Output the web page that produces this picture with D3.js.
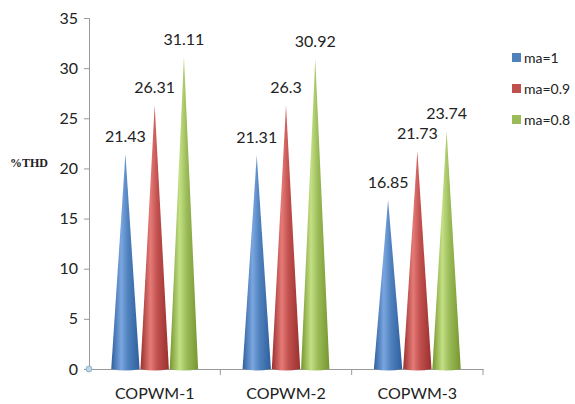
<!DOCTYPE html>
<html>
<head>
<meta charset="utf-8">
<script src="https://cdn.jsdelivr.net/npm/d3@7"></script>
<style>
  body { margin: 0; background: #fff; }
  text { font-family: Lato, "Open Sans", sans-serif; fill: #222; }
</style>
</head>
<body>
<div id="chart"></div>
<script>
// data
const categories = ["COPWM-1", "COPWM-2", "COPWM-3"];
const seriesNames = ["ma=1", "ma=0.9", "ma=0.8"];
const ma1 = [21.43, 21.31, 16.85];
const ma09 = [26.31, 26.3, 21.73];
const ma08 = [31.11, 30.92, 23.74];
const yTicks = [0, 5, 10, 15, 20, 25, 30, 35];

const seriesValues = [ma1, ma09, ma08];
const colors = [
  { base: "#4f81bd", dark: "#2f5f9e", light: "#7aa6e0" },
  { base: "#c0504d", dark: "#9a302e", light: "#e57a77" },
  { base: "#9bbb59", dark: "#76962f", light: "#c3e084" }
];

const W = 575, H = 404;
const margin = { top: 18, right: 92, bottom: 35, left: 89 };
const width = W - margin.left - margin.right;
const height = H - margin.top - margin.bottom;

const svg = d3.select("#chart").append("svg")
  .attr("width", W).attr("height", H);

// gradients for the cone shading
const defs = svg.append("defs");
colors.forEach(function (c, i) {
  const g = defs.append("linearGradient")
    .attr("id", "grad" + i)
    .attr("x1", "0%").attr("x2", "100%").attr("y1", "0%").attr("y2", "0%");
  g.append("stop").attr("offset", "0%").attr("stop-color", c.dark);
  g.append("stop").attr("offset", "35%").attr("stop-color", c.light);
  g.append("stop").attr("offset", "60%").attr("stop-color", c.base);
  g.append("stop").attr("offset", "100%").attr("stop-color", c.dark);
});

const chart = svg.append("g")
  .attr("transform", "translate(" + margin.left + "," + margin.top + ")");

const x = d3.scaleBand().domain(categories).range([0, width]).padding(0);
const xs = d3.scaleBand().domain(seriesNames).range([0, x.bandwidth()])
  .paddingInner(0.03).paddingOuter(0.76);
const y = d3.scaleLinear().domain([0, 35]).range([height, 0]);

// Y axis
const yAxis = chart.append("g")
  .call(d3.axisLeft(y).tickValues(yTicks).tickSize(5).tickPadding(6));
yAxis.select(".domain").attr("stroke", "#999");
yAxis.selectAll(".tick line").attr("stroke", "#999");
yAxis.selectAll("text").style("font-size", "16px").attr("fill", "#222");

// X axis
const xAxis = chart.append("g")
  .attr("transform", "translate(0," + height + ")")
  .call(d3.axisBottom(x).tickSize(0).tickPadding(19));
xAxis.select(".domain").attr("stroke", "#999");
xAxis.selectAll("text").style("font-size", "16px").attr("fill", "#222");
// category separators
chart.append("g").selectAll("line")
  .data(categories)
  .enter().append("line")
  .attr("x1", function (d) { return x(d) + x.bandwidth(); })
  .attr("x2", function (d) { return x(d) + x.bandwidth(); })
  .attr("y1", height).attr("y2", height + 6)
  .attr("stroke", "#999");

// small origin marker
chart.append("circle").attr("cx", 0).attr("cy", y(0)).attr("r", 3)
  .attr("fill", "#bcd6e6").attr("stroke", "#8fb3c9");

// cones
seriesValues.forEach(function (vals, si) {
  const grp = chart.append("g");
  grp.selectAll("path")
    .data(vals)
    .enter().append("path")
    .attr("d", function (d, ci) {
      const x0 = x(categories[ci]) + xs(seriesNames[si]);
      const bw = xs.bandwidth();
      const base = y(0);
      return "M" + x0 + "," + base +
        " L" + (x0 + bw / 2) + "," + y(d) +
        " L" + (x0 + bw) + "," + base +
        " Q" + (x0 + bw / 2) + "," + (base + 3) + " " + x0 + "," + base + "Z";
    })
    .attr("fill", "url(#grad" + si + ")");
  grp.selectAll("text")
    .data(vals)
    .enter().append("text")
    .attr("x", function (d, ci) { return x(categories[ci]) + xs(seriesNames[si]) + xs.bandwidth() / 2; })
    .attr("y", function (d) { return y(d) - 12; })
    .attr("text-anchor", "middle")
    .style("font-size", "16px")
    .text(function (d) { return d; });
});

// y label
svg.append("text")
  .attr("x", 10).attr("y", 167)
  .style("font-family", "'Liberation Serif', serif")
  .style("font-weight", "bold")
  .style("font-size", "12px")
  .text("%THD");

// legend
const legend = svg.append("g").attr("transform", "translate(512,58)");
seriesNames.forEach(function (name, i) {
  const row = legend.append("g").attr("transform", "translate(0," + (i * 31) + ")");
  row.append("rect").attr("x", 0).attr("y", -5).attr("width", 9).attr("height", 9)
    .attr("fill", colors[i].base);
  row.append("text").attr("x", 12).attr("y", 5)
    .style("font-size", "14px").text(name);
});
</script>
</body>
</html>
